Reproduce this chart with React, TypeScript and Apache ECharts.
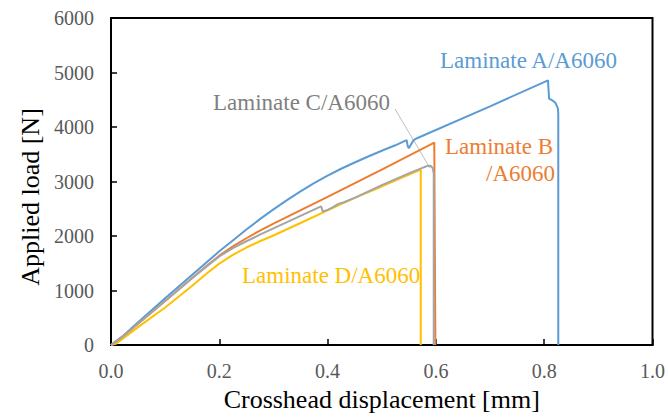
import React, { useEffect, useRef } from 'react';
import * as echarts from 'echarts';

// Crosshead displacement [mm], Applied load [N]
const laminateA: [number, number][] = [
  [0, 0], [0.02, 150], [0.05, 420], [0.1, 860], [0.15, 1290], [0.2, 1720], [0.225, 1920],
  [0.25, 2120], [0.275, 2310], [0.3, 2490], [0.325, 2660], [0.35, 2820], [0.375, 2970],
  [0.4, 3110], [0.425, 3235], [0.45, 3350], [0.475, 3460], [0.5, 3565], [0.525, 3665],
  [0.546, 3760], [0.548, 3650], [0.55, 3610], [0.554, 3680], [0.559, 3760], [0.565, 3795],
  [0.7, 4380], [0.807, 4856], [0.809, 4520], [0.815, 4490], [0.821, 4440],
  [0.825, 4350], [0.826, 4250], [0.826, 0],
];
const laminateB: [number, number][] = [
  [0, 0], [0.02, 140], [0.05, 390], [0.1, 810], [0.15, 1230], [0.175, 1440], [0.2, 1640],
  [0.225, 1810], [0.25, 1960], [0.275, 2100], [0.3, 2230], [0.4, 2720], [0.5, 3220],
  [0.597, 3715], [0.599, 0],
];
const laminateC: [number, number][] = [
  [0, 0], [0.02, 140], [0.05, 390], [0.1, 810], [0.15, 1230], [0.175, 1430], [0.2, 1625],
  [0.225, 1780], [0.25, 1905], [0.275, 2025], [0.3, 2140], [0.35, 2370], [0.388, 2545],
  [0.391, 2450], [0.4, 2480], [0.41, 2530], [0.42, 2590], [0.43, 2620], [0.45, 2700],
  [0.5, 2935], [0.55, 3150], [0.575, 3250], [0.584, 3285], [0.59, 3290], [0.594, 3250],
  [0.596, 3150], [0.596, 0],
];
const laminateD: [number, number][] = [
  [0, 0], [0.01, 30], [0.05, 330], [0.1, 690], [0.15, 1090], [0.175, 1300], [0.2, 1495],
  [0.225, 1655], [0.25, 1790], [0.275, 1905], [0.3, 2010], [0.35, 2240], [0.4, 2470],
  [0.45, 2700], [0.5, 2910], [0.572, 3220], [0.572, 0],
];

const seriesNames = ['Laminate A/A6060', 'Laminate B/A6060', 'Laminate C/A6060', 'Laminate D/A6060'];
const colors = ['#5B9BD5', '#ED7D31', '#A5A5A5', '#FFC000'];
const xTickValues = [0, 0.2, 0.4, 0.6, 0.8, 1.0];
const yTickValues = [0, 1000, 2000, 3000, 4000, 5000, 6000];

const FONT = 'Liberation Serif';
const f = (size: number) => `${size}px ${FONT}`;

export default function App() {
  const ref = useRef<HTMLDivElement>(null);
  useEffect(() => {
    if (!ref.current) return;
    const chart = echarts.init(ref.current, null, { renderer: 'svg' });
    const datasets = [laminateA, laminateB, laminateD, laminateC];
    const idx = [0, 1, 3, 2];
    const label = (text: string, x: number, y: number, fill: string, align: string) => ({
      type: 'text', x, y,
      style: {
        text, font: f(23), fontFamily: FONT, fontSize: 23, fill,
        textAlign: align, textVerticalAlign: 'middle', align, verticalAlign: 'middle',
      },
    });
    chart.setOption({
      animation: false,
      backgroundColor: '#ffffff',
      textStyle: { fontFamily: FONT },
      grid: {
        left: 111, right: 9, top: 18, bottom: 65,
        show: true, borderColor: '#000', borderWidth: 2, backgroundColor: 'transparent',
      },
      xAxis: {
        type: 'value',
        min: xTickValues[0],
        max: xTickValues[xTickValues.length - 1],
        interval: 0.2,
        name: 'Crosshead displacement [mm]',
        nameLocation: 'middle',
        nameGap: 33,
        nameTextStyle: { fontFamily: FONT, fontSize: 26, color: '#000' },
        axisLine: { show: true, onZero: false, lineStyle: { color: '#000', width: 2 } },
        axisTick: { show: true, inside: true, length: 6, lineStyle: { color: '#000', width: 1.5 } },
        axisLabel: {
          fontFamily: FONT, fontSize: 20, color: '#595959', margin: 16,
          formatter: (v: number) => v.toFixed(1),
        },
        splitLine: { show: false },
      },
      yAxis: {
        type: 'value',
        min: yTickValues[0],
        max: yTickValues[yTickValues.length - 1],
        interval: 1000,
        axisLine: { show: true, onZero: false, lineStyle: { color: '#000', width: 2 } },
        axisTick: { show: true, inside: true, length: 6, lineStyle: { color: '#000', width: 1.5 } },
        axisLabel: {
          fontFamily: FONT, fontSize: 20, color: '#595959', margin: 17,
          formatter: (v: number) => String(v),
        },
        splitLine: { show: false },
      },
      graphic: [
        {
          type: 'text', x: 30, y: 197, rotation: Math.PI / 2,
          style: {
            text: 'Applied load [N]', font: f(26), fontFamily: FONT, fontSize: 26, fill: '#000',
            textAlign: 'center', textVerticalAlign: 'middle', align: 'center', verticalAlign: 'middle',
          },
        },
        label(seriesNames[0], 440, 60, colors[0], 'left'),
        label('Laminate B', 553, 146, colors[1], 'right'),
        label('/A6060', 555, 173, colors[1], 'right'),
        label(seriesNames[2], 213, 102, '#7F7F7F', 'left'),
        label(seriesNames[3], 242, 275, colors[3], 'left'),
        {
          type: 'line', shape: { x1: 395, y1: 109, x2: 430, y2: 168 },
          style: { stroke: '#BFBFBF', lineWidth: 1 },
        },
      ],
      series: datasets.map((d, i) => ({
        type: 'line',
        name: seriesNames[idx[i]],
        data: d,
        showSymbol: false,
        symbol: 'none',
        smooth: false,
        lineStyle: { color: colors[idx[i]], width: 2 },
        itemStyle: { color: colors[idx[i]] },
        z: 2 + i,
      })),
    });
    return () => chart.dispose();
  }, []);
  return (
    <div
      ref={ref}
      style={{ position: 'fixed', left: 0, top: 0, width: 668, height: 417, background: '#fff' }}
    />
  );
}
